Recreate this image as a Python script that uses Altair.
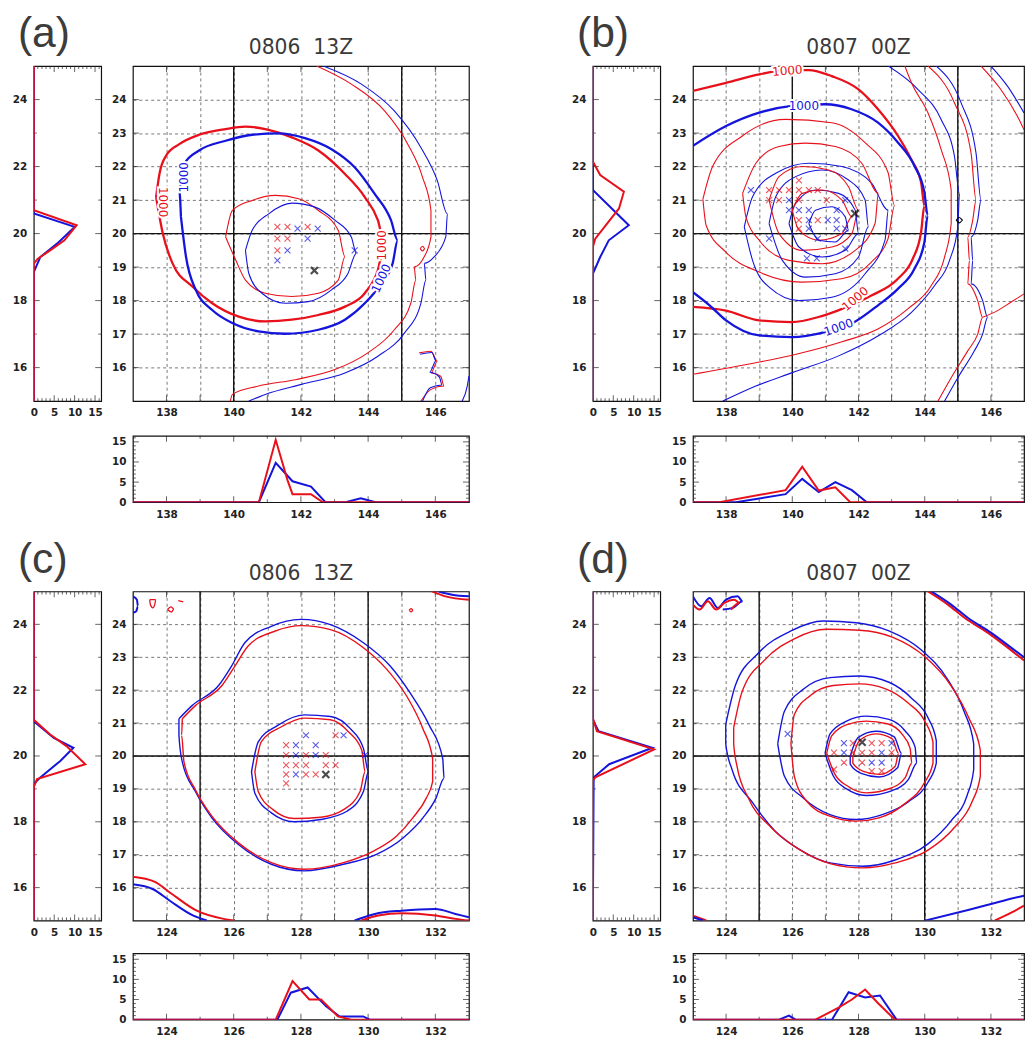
import altair as alt
import pandas as pd

# ---------------------------------------------------------------- data
# Panel (a)  contours as (lon, lat)
A_RED_1000 = [(137.69,21.09),(137.79,21.78),(137.99,22.33),(138.38,22.67),(138.97,22.95),(139.76,23.12),(140.35,23.19),(140.94,23.12),(141.73,22.87),(142.52,22.48),(143.31,21.78),(143.90,21.09),(144.29,20.40),(144.49,19.70),(144.29,18.91),(143.90,18.22),(143.31,17.82),(142.52,17.57),(141.73,17.43),(140.94,17.38),(140.15,17.52),(139.36,17.92),(138.77,18.42),(138.18,19.11),(137.89,20.00),(137.69,21.09)]
A_BLUE_1000 = [(138.43,20.50),(138.38,21.29),(138.53,22.08),(138.97,22.48),(139.76,22.77),(140.55,22.95),(141.33,22.99),(142.12,22.85),(142.91,22.52),(143.60,21.98),(144.19,21.19),(144.68,20.40),(144.88,19.80),(144.73,19.11),(144.39,18.51),(143.90,17.92),(143.31,17.43),(142.52,17.13),(141.53,17.01),(140.74,17.08),(139.96,17.33),(139.36,17.72),(138.87,18.32),(138.58,19.31),(138.43,20.50)]
A_RED_IN = [(139.76,19.90),(139.96,20.69),(140.55,20.99),(141.24,21.14),(141.93,21.04),(142.52,20.69),(143.11,20.10),(143.31,19.31),(143.11,18.61),(142.52,18.22),(141.73,18.12),(140.94,18.22),(140.35,18.61),(140.06,19.21),(139.76,19.90)]
A_BLUE_IN = [(140.35,19.50),(140.55,20.10),(141.04,20.59),(141.73,20.91),(142.42,20.79),(143.01,20.40),(143.50,19.90),(143.65,19.41),(143.40,18.81),(142.91,18.32),(142.22,17.97),(141.53,17.92),(140.84,18.22),(140.45,18.81),(140.35,19.50)]
A_RED_OUT = [(142.47,25.0),(143.50,24.46),(144.49,23.66),(145.18,22.67),(145.62,21.68),(145.87,20.69),(145.87,19.90),(145.67,19.31),(145.37,19.01),(145.42,18.61),(145.27,17.92),(144.78,17.13),(143.99,16.44),(143.01,15.94),(141.83,15.64),(140.74,15.45),(139.96,15.20),(139.90,15.0)]
A_BLUE_OUT = [(142.67,25.0),(143.80,24.46),(144.78,23.66),(145.57,22.57),(146.06,21.58),(146.36,20.59),(146.31,19.90),(145.97,19.31),(145.67,19.11),(145.72,18.61),(145.57,17.92),(145.08,17.03),(144.29,16.34),(143.31,15.84),(142.02,15.50),(140.94,15.20),(140.45,15.0)]
A_RED_WIG = [(145.52,16.44),(145.87,16.49),(146.06,16.19),(145.87,15.84),(146.16,15.74),(146.26,15.45),(145.87,15.35),(145.57,15.0)]
A_BLUE_WIG = [(145.55,16.40),(145.90,16.45),(146.02,16.20),(145.83,15.86),(146.12,15.72),(146.20,15.48),(145.85,15.40),(145.62,15.0)]
A_BLUE_EDGE = [(147.0,15.75),(146.95,15.45),(146.80,15.0)]
A_RED_DOT = [(145.55,19.55),(145.62,19.62),(145.69,19.55),(145.62,19.48),(145.55,19.55)]
A_X_RED = [(141.3,20.2),(141.3,19.85),(141.3,19.5),(141.6,20.2),(141.6,19.85),(142.2,20.2)]
A_X_BLUE = [(141.3,19.2),(141.6,19.5),(141.9,20.15),(142.2,19.85),(142.5,20.15),(143.6,19.5)]
A_X_BLACK = [(142.4,18.9)]
A_LABELS = [("1000",137.89,20.94,90,"red"),("1000",138.53,21.68,270,"blue"),("1000",144.41,19.65,270,"red"),("1000",144.39,18.66,295,"blue")]
A_LEFT_RED = [(25,0),(20.7,0),(20.25,10.5),(19.8,7.5),(19.5,4),(19.25,1),(19.1,0),(15,0)]
A_LEFT_BLUE = [(25,0),(20.6,0),(20.2,10),(19.7,5.7),(19.3,1.6),(18.85,0),(15,0)]
A_BOT_RED = [(137,0),(140.75,0),(141.25,15.5),(141.6,5.5),(141.75,2),(142.3,2),(142.65,0),(147,0)]
A_BOT_BLUE = [(137,0),(140.75,0),(141.25,9.8),(141.75,5.2),(142.3,3.9),(142.73,0),(143.33,0),(143.78,1),(144.22,0),(147,0)]

# Panel (b)
B_RED_1000 = [(137.0,24.26),(138.0,24.50),(139.0,24.75),(139.79,24.88),(140.49,24.88),(141.19,24.70),(141.99,24.31),(142.59,23.71),(143.19,22.92),(143.59,22.22),(143.89,21.53),(143.99,20.83),(143.89,20.04),(143.64,19.25),(143.19,18.65),(142.39,18.15),(141.39,17.71),(140.79,17.51),(139.99,17.36),(139.0,17.41),(138.0,17.70),(137.0,17.81)]
B_BLUE_1000 = [(137.0,22.62),(138.0,23.21),(139.0,23.61),(139.99,23.81),(140.99,23.86),(141.79,23.71),(142.59,23.31),(143.19,22.72),(143.69,22.02),(143.99,21.23),(144.09,20.54),(143.99,19.74),(143.69,18.95),(143.19,18.35),(142.59,17.86),(141.79,17.31),(140.99,17.06),(139.99,16.91),(139.0,16.96),(138.0,17.41),(137.5,17.86),(137.0,18.25)]
B_R2 = [(137.3,21.03),(137.6,22.02),(138.5,22.92),(139.79,23.41),(141.19,23.31),(142.19,22.72),(142.89,21.83),(143.09,20.83),(142.89,19.84),(142.39,19.15),(141.49,18.65),(140.29,18.55),(139.0,18.85),(138.0,19.44),(137.4,20.24),(137.3,21.03)]
B_B2 = [(138.55,20.2),(138.8,21.1),(139.5,21.8),(140.5,22.1),(141.5,22.0),(142.4,21.5),(142.9,20.7),(142.8,19.8),(142.2,18.8),(141.2,18.1),(140.2,18.0),(139.3,18.4),(138.8,19.2),(138.55,20.2)]
B_R3 = [(138.5,21.2),(138.9,22.1),(139.6,22.6),(140.4,22.7),(141.3,22.6),(142.1,22.1),(142.6,21.2),(142.5,20.3),(141.9,19.5),(140.9,19.1),(139.9,19.2),(139.0,19.8),(138.6,20.5),(138.5,21.2)]
B_B3 = [(139.3,20.3),(139.5,21.1),(140.1,21.7),(140.9,21.9),(141.7,21.6),(142.2,21.0),(142.3,20.2),(142.0,19.3),(141.3,18.8),(140.4,18.7),(139.7,19.2),(139.3,20.3)]
B_R4 = [(139.3,21.0),(139.6,21.7),(140.3,22.0),(141.1,21.9),(141.7,21.4),(142.0,20.7),(141.8,20.0),(141.2,19.6),(140.3,19.5),(139.6,20.0),(139.3,21.0)]
B_B4 = [(139.9,20.3),(140.1,20.9),(140.7,21.3),(141.4,21.2),(141.9,20.7),(142.0,20.0),(141.6,19.5),(140.9,19.3),(140.2,19.6),(139.9,20.3)]
B_R5 = [(140.0,20.7),(140.3,21.2),(140.9,21.3),(141.5,21.0),(141.8,20.5),(141.5,20.0),(140.8,19.8),(140.2,20.1),(140.0,20.7)]
B_B5 = [(140.5,20.3),(140.7,20.7),(141.2,20.8),(141.6,20.5),(141.7,20.1),(141.3,19.75),(140.8,19.8),(140.5,20.3)]
B_BLUE_OUT = [(142.9,25.0),(143.8,24.3),(144.5,23.4),(144.9,22.3),(145.05,21.2),(145.0,20.2),(144.75,19.2),(144.3,18.45),(143.6,17.65),(142.6,16.95),(141.4,16.35),(140.0,15.85),(138.9,15.45),(137.9,15.0)]
B_RED_OUT = [(137.0,15.8),(138.5,16.07),(140.0,16.37),(141.5,16.77),(142.6,17.16),(143.5,17.76),(144.2,18.45),(144.6,19.3),(144.8,20.3),(144.8,21.3),(144.5,22.5),(144.1,23.6),(143.6,24.5),(143.4,25.0)]
B_PURP_R = [(144.1,25.0),(144.9,23.9),(145.4,22.4),(145.55,21.0),(145.45,20.4),(145.3,19.9),(145.35,19.2),(145.3,18.5),(145.6,18.0),(145.75,17.5),(145.6,17.0),(145.3,16.5),(144.8,15.7),(144.4,15.0)]
B_PURP_B = [(144.35,25.0),(145.1,23.9),(145.55,22.4),(145.7,21.0),(145.6,20.4),(145.4,19.9),(145.45,19.2),(145.4,18.5),(145.75,18.0),(145.9,17.5),(145.75,17.0),(145.5,16.5),(145.0,15.7),(144.6,15.0)]
B_BRANCH = [(145.75,17.5),(146.2,17.7),(146.6,17.95),(147.0,18.2)]
B_FR_R = [(145.7,25.0),(146.3,24.3),(146.8,23.5),(147.0,23.1)]
B_FR_B = [(146.0,25.0),(146.5,24.4),(147.0,23.6)]
B_DIAMOND = [(144.95,20.4),(145.05,20.48),(145.15,20.4),(145.05,20.32),(144.95,20.4)]
B_X_RED = [(139.3,21.3),(139.6,21.3),(139.9,21.3),(140.2,21.3),(140.5,21.3),(140.77,21.3),(140.2,21.59),(139.3,21.0),(139.6,21.0),(140.2,21.0),(141.04,21.0),(140.2,20.4),(140.77,20.4),(140.2,20.15)]
B_X_BLUE = [(138.75,21.3),(139.9,21.0),(141.6,21.0),(139.9,20.7),(140.2,20.7),(140.5,20.7),(141.34,20.7),(140.5,20.4),(141.07,20.4),(141.34,20.4),(140.5,20.15),(141.34,20.15),(141.6,20.15),(139.3,19.85),(140.77,19.85),(141.6,19.55),(140.44,19.26),(140.74,19.26)]
B_X_BLACK = [(141.89,20.6)]
B_LABELS = [("1000",139.85,24.86,355,"red"),("1000",140.35,23.8,0,"blue"),("1000",141.9,18.05,320,"red"),("1000",141.4,17.2,340,"blue")]
B_LEFT_RED = [(25,0),(22.15,0),(21.75,1.8),(21.25,7.6),(20.75,6.4),(19.85,0.6),(19.6,0),(15,0)]
B_LEFT_BLUE = [(25,0),(21.3,0),(20.25,8.8),(19.8,3.9),(19.3,1.8),(18.8,0),(15,0)]
B_BOT_RED = [(137,0),(137.8,0),(139.8,3),(140.3,8.8),(140.8,2.9),(141.3,3.7),(141.75,0),(147,0)]
B_BOT_BLUE = [(137,0),(138.3,0),(139.8,2),(140.3,5.8),(140.8,2.5),(141.3,5),(141.8,3),(142.25,0),(147,0)]

# Panel (c)
C_BLUE_OUT = [(124.37,21.13),(124.76,21.53),(125.55,22.14),(125.94,22.74),(126.33,23.44),(127.12,23.94),(128.0,24.15),(128.88,23.99),(129.86,23.44),(130.65,22.74),(131.24,21.93),(131.82,20.93),(132.22,19.92),(132.26,19.32),(132.02,18.72),(131.63,18.12),(131.04,17.51),(130.25,17.01),(129.27,16.71),(128.1,16.51),(127.12,16.71),(126.14,17.31),(125.35,18.12),(124.86,18.92),(124.47,19.82),(124.37,20.63),(124.37,21.13)]
C_RED_OUT = [(124.47,21.13),(124.86,21.53),(125.65,22.14),(126.04,22.74),(126.43,23.34),(127.22,23.79),(128.0,23.96),(128.88,23.84),(129.86,23.29),(130.55,22.64),(131.14,21.83),(131.63,20.83),(131.92,19.92),(131.92,19.22),(131.73,18.72),(131.33,18.12),(130.84,17.56),(130.16,17.11),(129.27,16.76),(128.1,16.56),(127.12,16.76),(126.14,17.36),(125.35,18.17),(124.86,18.97),(124.52,19.82),(124.45,20.63),(124.47,21.13)]
C_BLUE_IN = [(126.53,19.52),(126.73,20.43),(127.31,20.93),(128.1,21.25),(128.88,21.20),(129.47,20.83),(129.86,20.23),(130.01,19.52),(129.86,18.92),(129.37,18.32),(128.59,18.07),(127.8,18.0),(127.12,18.27),(126.63,18.87),(126.53,19.52)]
C_RED_IN = [(126.63,19.52),(126.82,20.43),(127.41,20.88),(128.1,21.15),(128.88,21.10),(129.42,20.73),(129.81,20.18),(129.91,19.52),(129.76,18.92),(129.27,18.37),(128.59,18.14),(127.8,18.10),(127.17,18.37),(126.73,18.92),(126.63,19.52)]
C_RED_BL = [(123.0,16.33),(123.64,16.18),(124.13,15.83),(124.9,15.3),(125.7,15.05),(126.0,15.0)]
C_BLUE_BL = [(123.0,16.1),(123.6,15.95),(124.1,15.6),(124.8,15.15),(125.2,15.0)]
C_BLUE_BR = [(129.6,15.0),(130.2,15.2),(131.0,15.3),(132.0,15.35),(132.6,15.2),(133.0,15.1)]
C_RED_BR = [(129.8,15.0),(130.3,15.15),(131.0,15.22),(132.0,15.15),(132.6,15.05),(133.0,15.0)]
C_RED_TR = [(131.9,25.0),(132.3,24.85),(133.0,24.75)]
C_BLUE_TR = [(132.1,25.0),(132.5,24.9),(133.0,24.85)]
C_BLUE_BLOB = [(123.0,24.85),(123.12,24.75),(123.15,24.55),(123.1,24.4),(123.0,24.35)]
C_RED_BLOB1 = [(123.5,24.75),(123.68,24.75),(123.65,24.6),(123.59,24.5),(123.52,24.6),(123.5,24.75)]
C_RED_BLOB2 = [(124.03,24.45),(124.13,24.53),(124.22,24.47),(124.15,24.37),(124.03,24.45)]
C_RED_DASH = [(124.35,24.72),(124.5,24.68)]
C_RED_DOT = [(131.22,24.43),(131.28,24.48),(131.34,24.43),(131.28,24.38),(131.22,24.43)]
C_X_RED = [(127.56,20.33),(129.03,20.63),(127.56,20.03),(128.15,20.03),(128.74,20.03),(127.56,19.72),(127.85,19.72),(128.15,19.72),(128.74,19.72),(129.03,19.72),(127.56,19.44),(128.15,19.44),(128.44,19.44),(127.56,19.17)]
C_X_BLUE = [(127.85,20.33),(128.15,20.63),(128.44,20.33),(129.27,20.63),(127.85,20.03),(128.44,20.03),(129.91,20.03),(127.85,19.44)]
C_X_BLACK = [(128.74,19.44)]
C_LEFT_RED = [(25,0),(21.1,0),(20.65,4),(20.3,8),(19.75,12.6),(19.3,0.8),(19.05,0),(15,0)]
C_LEFT_BLUE = [(25,0),(21.05,0),(20.55,4.9),(20.25,9.7),(19.85,6.5),(19.35,1.6),(19.15,0),(15,0)]
C_BOT_RED = [(123,0),(127.25,0),(127.75,9.6),(128.25,5),(128.6,5),(129.1,0.8),(129.5,0),(133,0)]
C_BOT_BLUE = [(123,0),(127.3,0),(127.7,6.7),(128.2,8),(128.75,3.3),(129.15,0.8),(129.85,0.8),(130.05,0),(133,0)]

# Panel (d)
D_BLUE_OUT = [(123.99,20.96),(124.28,22.14),(124.97,23.12),(125.96,23.80),(126.94,24.10),(127.93,24.05),(128.92,23.80),(129.90,23.22),(130.69,22.33),(131.19,21.35),(131.48,20.37),(131.48,19.59),(131.28,18.80),(130.79,18.02),(130.10,17.33),(129.11,16.84),(128.13,16.65),(127.14,16.75),(126.25,17.14),(125.47,17.73),(124.78,18.61),(124.18,19.59),(123.99,20.37),(123.99,20.96)]
D_RED_OUT = [(124.23,20.86),(124.48,21.94),(125.17,22.92),(126.06,23.56),(127.04,23.85),(128.03,23.82),(129.02,23.61),(130.0,23.02),(130.79,22.14),(131.33,21.16),(131.68,20.18),(131.68,19.39),(131.43,18.61),(130.89,17.82),(130.10,17.14),(129.11,16.75),(128.13,16.6),(127.14,16.73),(126.16,17.19),(125.37,17.82),(124.68,18.71),(124.33,19.69),(124.23,20.37),(124.23,20.86)]
D_BLUE_MID = [(125.56,20.37),(125.76,21.35),(126.35,22.04),(127.14,22.38),(128.03,22.43),(128.92,22.24),(129.61,21.75),(130.10,21.16),(130.35,20.47),(130.35,19.78),(130.10,19.20),(129.51,18.61),(128.72,18.22),(127.93,18.07),(127.14,18.22),(126.35,18.71),(125.76,19.39),(125.56,20.37)]
D_RED_MID = [(125.96,20.37),(126.06,21.25),(126.55,21.84),(127.24,22.14),(128.03,22.19),(128.82,22.04),(129.51,21.6),(130.0,21.06),(130.25,20.42),(130.25,19.78),(130.0,19.2),(129.41,18.56),(128.62,18.12),(127.93,18.02),(127.14,18.17),(126.45,18.61),(126.06,19.39),(125.96,20.37)]
D_BLUE_IN = [(126.99,20.08),(127.14,20.67),(127.64,21.06),(128.23,21.21),(128.92,21.11),(129.41,20.76),(129.71,20.27),(129.76,19.78),(129.51,19.29),(129.02,18.95),(128.23,18.80),(127.64,19.0),(127.24,19.39),(126.99,20.08)]
D_RED_IN = [(127.04,20.08),(127.19,20.61),(127.68,20.96),(128.23,21.06),(128.87,20.98),(129.31,20.67),(129.56,20.23),(129.61,19.78),(129.41,19.34),(128.97,19.02),(128.23,18.88),(127.68,19.08),(127.29,19.44),(127.04,20.08)]
D_SMALL_R = [(127.83,19.98),(128.03,20.47),(128.52,20.67),(129.02,20.52),(129.21,20.08),(129.11,19.69),(128.62,19.44),(128.13,19.54),(127.83,19.78),(127.83,19.98)]
D_SMALL_B = [(127.75,20.0),(127.98,20.55),(128.52,20.75),(129.08,20.58),(129.3,20.08),(129.18,19.64),(128.62,19.36),(128.08,19.47),(127.75,19.75),(127.75,20.0)]
D_TL_B = [(123.0,24.85),(123.25,24.55),(123.5,24.8),(123.75,24.5),(124.0,24.75),(124.35,24.85),(124.5,24.7),(124.2,24.5),(123.9,24.45)]
D_TL_R = [(123.0,24.6),(123.2,24.45),(123.45,24.7),(123.7,24.45),(123.95,24.65),(124.25,24.75),(124.4,24.65),(124.15,24.45)]
D_TR_R = [(130.1,25.0),(130.7,24.6),(131.2,24.2),(131.9,23.75),(132.5,23.3),(133.0,22.9)]
D_TR_B = [(130.2,25.0),(130.8,24.6),(131.3,24.2),(132.0,23.75),(132.6,23.3),(133.0,23.0)]
D_BR_B = [(130.02,15.0),(131.34,15.33),(132.12,15.53),(132.9,15.73),(133.0,15.75)]
D_BR_R = [(132.12,15.0),(132.6,15.23),(133.0,15.45)]
D_BL_R = [(123.0,15.15),(123.4,15.0)]
D_BL_B = [(123.0,15.1),(123.3,15.0)]
D_X_RED = [(127.83,20.39),(128.40,20.39),(128.70,20.39),(127.26,20.1),(127.83,20.1),(128.11,20.1),(128.40,20.1),(129.0,20.1),(127.56,19.8),(128.11,19.8),(128.40,19.54),(128.70,19.54),(127.26,19.59)]
D_X_BLUE = [(127.56,20.39),(129.0,20.39),(127.56,20.1),(128.70,20.1),(128.40,19.8),(128.70,19.8),(125.86,20.67)]
D_X_BLACK = [(128.11,20.42)]
D_LEFT_RED = [(25,0),(21.15,0),(20.75,1),(20.2,15),(19.35,0.6),(19.25,0),(15,0)]
D_LEFT_BLUE = [(25,0),(21.1,0),(20.75,1.4),(20.25,14.6),(19.75,4),(19.35,0.2),(15,0)]
D_BOT_RED = [(123,0),(126.7,0),(127.4,3),(127.8,5),(128.2,7.5),(128.6,4),(129.1,0),(133,0)]
D_BOT_BLUE = [(123,0),(125.6,0),(125.9,1),(126.1,0),(127.2,0),(127.7,6.8),(128.2,5.5),(128.65,6),(129.15,0),(133,0)]

TITLES = {"a": "0806\u00a0 13Z", "b": "0807\u00a0 00Z", "c": "0806\u00a0 13Z", "d": "0807\u00a0 00Z"}

# tick positions of the frames
LAT_TICKS = [16, 17, 18, 19, 20, 21, 22, 23, 24]
COUNT_MAJOR = [5, 10, 15]
COUNT_MINOR = [1, 2, 3, 4, 6, 7, 8, 9, 11, 12, 13, 14, 16]

# ---------------------------------------------------------------- styling
RED = "#e8101a"
BLUE = "#1414dc"
RED_THIN = "#dc5050"
BLUE_THIN = "#5050dc"
FONT = "DejaVu Sans"
XSHAPE = "M -1 -1 L 1 1 M -1 1 L 1 -1"
TICK_C = "#222"


def lines_df(items):
    rows = []
    for cid, (series, pts) in enumerate(items):
        for i, (a, b) in enumerate(pts):
            rows.append({"cid": cid, "series": series, "i": i, "p": a, "q": b})
    return pd.DataFrame(rows)


def pts_df(items):
    rows = []
    for series, pts in items:
        for (a, b) in pts:
            rows.append({"series": series, "p": a, "q": b})
    return pd.DataFrame(rows)


def color(rng):
    return alt.Color("series:N", scale=alt.Scale(domain=["red", "blue", "black"], range=rng), legend=None)


def frame_ticks(X, Y, xvals, yvals, width, height, ln):
    """inward ticks on all four sides of a frame"""
    out = []
    if xvals:
        d = alt.Chart(pd.DataFrame({"p": xvals}))
        out.append(d.mark_tick(color=TICK_C, thickness=1, size=ln).encode(x=X("p"), y=alt.value(height - ln / 2)))
        out.append(d.mark_tick(color=TICK_C, thickness=1, size=ln).encode(x=X("p"), y=alt.value(ln / 2)))
    if yvals:
        d = alt.Chart(pd.DataFrame({"q": yvals}))
        out.append(d.mark_tick(color=TICK_C, thickness=1, size=ln).encode(y=Y("q"), x=alt.value(ln / 2)))
        out.append(d.mark_tick(color=TICK_C, thickness=1, size=ln).encode(y=Y("q"), x=alt.value(width - ln / 2)))
    return out


def main_chart(letter, xdom, vlines, groups, xred, xblue, xblack, labels, width, height):
    xs = alt.Scale(domain=list(xdom), nice=False, zero=False)
    ys = alt.Scale(domain=[15, 25], nice=False, zero=False)
    lon_ticks = list(range(xdom[0] + 1, xdom[1]))
    xax = alt.Axis(values=lon_ticks, labelExpr="datum.value % 2 == 0 ? datum.label : ''", grid=True)
    yax = alt.Axis(values=LAT_TICKS, grid=True)

    def X(f):
        return alt.X(f, type="quantitative", scale=xs, axis=xax, title=None)

    def Y(f):
        return alt.Y(f, type="quantitative", scale=ys, axis=yax, title=None)

    vl = alt.Chart(pd.DataFrame({"p": vlines})).mark_rule(color="#111", strokeWidth=1.4).encode(x=X("p"))
    hl = alt.Chart(pd.DataFrame({"q": [20]})).mark_rule(color="#111", strokeWidth=1.4).encode(y=Y("q"))
    layers = [vl, hl] + frame_ticks(X, Y, lon_ticks, LAT_TICKS, width, height, 6)
    for items, sw, pal in groups:
        if items:
            layers.append(alt.Chart(lines_df(items)).mark_line(strokeWidth=sw, clip=True, interpolate="monotone").encode(
                x=X("p"), y=Y("q"), detail="cid:N", order="i:Q", color=color(pal)))
    layers.append(alt.Chart(pts_df([("red", xred), ("blue", xblue)])).mark_point(
        shape=XSHAPE, filled=False, size=36, strokeWidth=1.1).encode(
        x=X("p"), y=Y("q"), color=color([RED, BLUE, "#000"])))
    layers.append(alt.Chart(pts_df([("black", xblack)])).mark_point(
        shape=XSHAPE, filled=False, size=50, strokeWidth=2.2, color="#000").encode(x=X("p"), y=Y("q")))
    if labels:
        ldf = pd.DataFrame([{"txt": t, "p": a, "q": b, "ang": g, "series": s} for (t, a, b, g, s) in labels])
        base = alt.Chart(ldf)
        layers.append(base.mark_text(font=FONT, fontSize=12, color="white", stroke="white", strokeWidth=4).encode(
            x=X("p"), y=Y("q"), text="txt:N", angle=alt.Angle("ang:Q", scale=None)))
        layers.append(base.mark_text(font=FONT, fontSize=12).encode(
            x=X("p"), y=Y("q"), text="txt:N", angle=alt.Angle("ang:Q", scale=None), color=color([RED, BLUE, "#000"])))
    # panel title, placed just above the plot frame
    layers.append(alt.Chart(pd.DataFrame({"t": [TITLES[letter]]})).mark_text(
        font=FONT, fontSize=20.5, color="#3a3a3a", align="center", baseline="alphabetic").encode(
        text="t:N", x=alt.value(width / 2), y=alt.value(-12)))
    return alt.layer(*layers).properties(width=width, height=height)


def left_chart(letter, red, blue, height):
    xs = alt.Scale(domain=[0, 16.5], nice=False)
    ys = alt.Scale(domain=[15, 25], nice=False, zero=False)

    def X(f):
        return alt.X(f, type="quantitative", scale=xs, title=None, axis=alt.Axis(values=[0, 5, 10, 15], grid=False))

    def Y(f):
        return alt.Y(f, type="quantitative", scale=ys, title=None, axis=alt.Axis(values=[16, 18, 20, 22, 24], grid=False))

    df = lines_df([("blue", [(b, a) for (a, b) in blue]), ("red", [(b, a) for (a, b) in red])])
    line = alt.Chart(df).mark_line(strokeWidth=2, clip=True).encode(
        x=X("p"), y=Y("q"), detail="cid:N", order="i:Q", color=color([RED, BLUE, "#000"]))
    lab = alt.Chart(pd.DataFrame({"t": ["(" + letter + ")"]})).mark_text(
        font="Liberation Sans", fontSize=43, color="#3c3c3c", align="left", baseline="alphabetic").encode(
        text="t:N", x=alt.value(-16), y=alt.value(-19))
    ticks = (frame_ticks(X, Y, COUNT_MAJOR, [16, 18, 20, 22, 24], 68, height, 6)
             + frame_ticks(X, Y, COUNT_MINOR, [17, 19, 21, 23], 68, height, 3))
    return alt.layer(*ticks, line, lab).properties(width=68, height=height)


def bottom_chart(xdom, red, blue, width):
    xs = alt.Scale(domain=list(xdom), nice=False, zero=False)
    ys = alt.Scale(domain=[0, 16.5], nice=False)
    lon_ticks = list(range(xdom[0] + 1, xdom[1]))

    def X(f):
        return alt.X(f, type="quantitative", scale=xs, title=None,
                     axis=alt.Axis(values=lon_ticks, labelExpr="datum.value % 2 == 0 ? datum.label : ''", grid=False))

    def Y(f):
        return alt.Y(f, type="quantitative", scale=ys, title=None, axis=alt.Axis(values=[0, 5, 10, 15], grid=False))

    df = lines_df([("blue", blue), ("red", red)])
    line = alt.Chart(df).mark_line(strokeWidth=2, clip=True).encode(
        x=X("p"), y=Y("q"), detail="cid:N", order="i:Q", color=color([RED, BLUE, "#000"]))
    ticks = (frame_ticks(X, Y, [v for v in lon_ticks if v % 2 == 0], COUNT_MAJOR, width, 67, 6)
             + frame_ticks(X, Y, [v for v in lon_ticks if v % 2 == 1], COUNT_MINOR, width, 67, 3))
    return alt.layer(*ticks, line).properties(width=width, height=67)


SPACER_DF = pd.DataFrame({"v": [0]})


def spacer(w, h):
    return alt.Chart(SPACER_DF).mark_point(opacity=0).encode(
        x=alt.value(0), y=alt.value(0)).properties(width=w, height=h, view=alt.ViewBackground(strokeOpacity=0))


THIN = [RED_THIN, BLUE_THIN, "#222"]
FULL = [RED, BLUE, "#000"]

# ---------------------------------------------------------------- panels
H1, H2 = 338, 332
main_a = main_chart("a", (137, 147), [140, 145],
                    [([("red", A_RED_IN), ("blue", A_BLUE_IN), ("red", A_RED_OUT), ("blue", A_BLUE_OUT),
                       ("red", A_RED_WIG), ("blue", A_BLUE_WIG), ("blue", A_BLUE_EDGE), ("red", A_RED_DOT)], 1.1, THIN),
                     ([("red", A_RED_1000), ("blue", A_BLUE_1000)], 2.3, FULL)],
                    A_X_RED, A_X_BLUE, A_X_BLACK, A_LABELS, 339, H1)
main_b = main_chart("b", (137, 147), [140, 145],
                    [([("red", B_R2), ("blue", B_B2), ("red", B_R3), ("blue", B_B3), ("red", B_R4), ("blue", B_B4),
                       ("red", B_R5), ("blue", B_B5), ("blue", B_BLUE_OUT), ("red", B_RED_OUT),
                       ("red", B_PURP_R), ("blue", B_PURP_B), ("red", B_BRANCH), ("red", B_FR_R), ("blue", B_FR_B),
                       ("black", B_DIAMOND)], 1.1, THIN),
                     ([("red", B_RED_1000), ("blue", B_BLUE_1000)], 2.3, FULL)],
                    B_X_RED, B_X_BLUE, B_X_BLACK, B_LABELS, 334, H1)
main_c = main_chart("c", (123, 133), [125, 130],
                    [([("red", C_RED_BLOB1), ("red", C_RED_BLOB2), ("red", C_RED_DASH), ("red", C_RED_DOT)], 1.3, FULL),
                     ([("blue", C_BLUE_OUT), ("red", C_RED_OUT), ("blue", C_BLUE_IN), ("red", C_RED_IN)], 1.4, FULL),
                     ([("red", C_RED_BL), ("blue", C_BLUE_BL), ("blue", C_BLUE_BR), ("red", C_RED_BR),
                       ("red", C_RED_TR), ("blue", C_BLUE_TR), ("blue", C_BLUE_BLOB)], 2.0, FULL)],
                    C_X_RED, C_X_BLUE, C_X_BLACK, [], 339, H2)
main_d = main_chart("d", (123, 133), [125, 130],
                    [([("blue", D_BLUE_OUT), ("red", D_RED_OUT), ("blue", D_BLUE_MID), ("red", D_RED_MID),
                       ("blue", D_BLUE_IN), ("red", D_RED_IN), ("blue", D_SMALL_B), ("red", D_SMALL_R)], 1.4, FULL),
                     ([("blue", D_TL_B), ("red", D_TL_R), ("red", D_TR_R), ("blue", D_TR_B),
                       ("blue", D_BR_B), ("red", D_BR_R), ("red", D_BL_R), ("blue", D_BL_B)], 2.0, FULL)],
                    D_X_RED, D_X_BLUE, D_X_BLACK, [], 334, H2)

left_a = left_chart("a", A_LEFT_RED, A_LEFT_BLUE, H1)
left_b = left_chart("b", B_LEFT_RED, B_LEFT_BLUE, H1)
left_c = left_chart("c", C_LEFT_RED, C_LEFT_BLUE, H2)
left_d = left_chart("d", D_LEFT_RED, D_LEFT_BLUE, H2)
bot_a = bottom_chart((137, 147), A_BOT_RED, A_BOT_BLUE, 339)
bot_b = bottom_chart((137, 147), B_BOT_RED, B_BOT_BLUE, 334)
bot_c = bottom_chart((123, 133), C_BOT_RED, C_BOT_BLUE, 339)
bot_d = bottom_chart((123, 133), D_BOT_RED, D_BOT_BLUE, 334)

COLW = [68, 32, 339, 125, 68, 33, 334]
ROWH = [H1, 35, 67, 90, H2, 33, 67]
GRID = {
    (0, 0): left_a, (0, 2): main_a, (0, 4): left_b, (0, 6): main_b,
    (2, 2): bot_a, (2, 6): bot_b,
    (4, 0): left_c, (4, 2): main_c, (4, 4): left_d, (4, 6): main_d,
    (6, 2): bot_c, (6, 6): bot_d,
}
cells = []
for r, h in enumerate(ROWH):
    for c, w in enumerate(COLW):
        cells.append(GRID.get((r, c), spacer(w, h)))

chart = alt.ConcatChart(concat=cells, columns=7, spacing=0, bounds="flush", align="each").properties(
    padding={"left": 3, "top": 0, "right": 2, "bottom": 2}
).configure_view(stroke="#111", strokeWidth=1.2).configure_axis(
    labelFont=FONT, labelFontSize=10.5, labelFontWeight="bold", labelColor="#222",
    ticks=False, domain=False, labelPadding=7, labelFlush=False, labelOverlap=False,
    gridColor="#555", gridDash=[3, 3], gridWidth=0.8, gridOpacity=1,
)

chart.save("out.html", embed_options={"renderer": "svg", "actions": False})
